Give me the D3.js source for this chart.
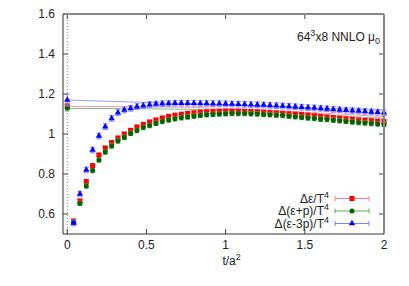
<!DOCTYPE html>
<html>
<head>
<meta charset="utf-8">
<script src="https://cdn.jsdelivr.net/npm/d3@7"></script>
<style>
body { margin: 0; background: #fff; }
text { font-family: "Liberation Sans", Arial, sans-serif; }
</style>
</head>
<body>
<div class="chart"></div>
<script>
// flow time values
var tValues = [0.04,0.08,0.12,0.16,0.20,0.24,0.28,0.32,0.36,0.40,0.44,0.48,0.52,0.56,0.60,0.64,0.68,0.72,0.76,0.80,
	0.84,0.88,0.92,0.96,1.00,1.04,1.08,1.12,1.16,1.20,1.24,1.28,1.32,1.36,1.40,1.44,1.48,1.52,1.56,1.60,
	1.64,1.68,1.72,1.76,1.80,1.84,1.88,1.92,1.96,2.00];
var deltaEps = [0.565,0.665,0.762,0.842,0.895,0.930,0.957,0.980,1.000,1.018,1.035,1.048,1.060,1.070,1.080,1.088,1.094,1.099,1.103,1.106,
	1.109,1.111,1.112,1.113,1.114,1.114,1.114,1.113,1.112,1.111,1.109,1.107,1.105,1.103,1.101,1.099,1.097,1.094,1.091,1.088,
	1.085,1.082,1.079,1.076,1.073,1.070,1.068,1.066,1.064,1.062];
var deltaEpsP = [0.558,0.653,0.740,0.817,0.870,0.910,0.940,0.965,0.983,1.003,1.017,1.032,1.042,1.053,1.062,1.070,1.076,1.081,1.085,1.089,
	1.093,1.096,1.098,1.100,1.101,1.102,1.102,1.102,1.101,1.100,1.098,1.096,1.094,1.092,1.089,1.086,1.083,1.080,1.077,1.074,
	1.072,1.069,1.066,1.063,1.060,1.057,1.055,1.052,1.050,1.048];
var deltaEps3P = [0.555,0.700,0.820,0.920,0.990,1.037,1.078,1.107,1.120,1.128,1.137,1.142,1.147,1.150,1.152,1.153,1.154,1.154,1.154,1.154,
	1.153,1.153,1.152,1.152,1.151,1.150,1.149,1.148,1.147,1.146,1.145,1.143,1.142,1.140,1.138,1.136,1.134,1.132,1.130,1.128,
	1.126,1.123,1.121,1.119,1.117,1.115,1.113,1.111,1.109,1.107];
var seriesErrors = [0.008, 0.011, 0.014];
// extrapolated t->0 values
var zeroValues = [1.14, 1.13, 1.17];
var zeroErrors = [0.015, 0.015, 0.03];
// thin lines
var lineT = [0, 0.4, 0.8, 1.2, 1.6, 2];
var lineEps = [1.138, 1.137, 1.133, 1.122, 1.105, 1.087];
var lineEpsP = [1.128, 1.127, 1.123, 1.112, 1.096, 1.078];
var lineEps3P = [1.170, 1.160, 1.152, 1.142, 1.130, 1.118];
var xTicks = [0, 0.5, 1, 1.5, 2];
var yTicks = [0.6, 0.8, 1, 1.2, 1.4, 1.6];
var legendLabels = ['Δε/T', 'Δ(ε+p)/T', 'Δ(ε-3p)/T'];

var width = 409, height = 286;
var plotL = 63, plotR = 384, plotT = 14, plotB = 234;
var colors = ['#ff0000', '#006400', '#0000ff'];
var errColors = ['#ff8080', '#66a866', '#8080ff'];
var shapes = [d3.symbolSquare, d3.symbolCircle, d3.symbolTriangle];
var sizes = [26, 20, 18];

var svg = d3.select('.chart').append('svg')
	.attr('width', width).attr('height', height);

var x = d3.scaleLinear().domain([-0.027, 2]).range([plotL, plotR]);
var y = d3.scaleLinear().domain([0.5, 1.6]).range([plotB, plotT]);

// dotted line at t = 0
svg.append('line')
	.attr('x1', x(0)).attr('x2', x(0)).attr('y1', plotT).attr('y2', plotB)
	.attr('stroke', '#888').attr('stroke-width', 1).attr('stroke-dasharray', '1,2');

// ticks (inward, mirrored)
yTicks.forEach(function(v){
	svg.append('line').attr('x1', plotL).attr('x2', plotL+5).attr('y1', y(v)).attr('y2', y(v)).attr('stroke', '#444');
	svg.append('line').attr('x1', plotR-5).attr('x2', plotR).attr('y1', y(v)).attr('y2', y(v)).attr('stroke', '#444');
	svg.append('text').attr('x', plotL-8).attr('y', y(v)+4).attr('text-anchor', 'end')
		.attr('font-size', 12).attr('fill', '#222').text(v);
});
xTicks.forEach(function(v){
	svg.append('line').attr('x1', x(v)).attr('x2', x(v)).attr('y1', plotB).attr('y2', plotB-5).attr('stroke', '#444');
	svg.append('line').attr('x1', x(v)).attr('x2', x(v)).attr('y1', plotT).attr('y2', plotT+5).attr('stroke', '#444');
	svg.append('text').attr('x', x(v)).attr('y', plotB+15).attr('text-anchor', 'middle')
		.attr('font-size', 12).attr('fill', '#222').text(v);
});

var series = [deltaEps, deltaEpsP, deltaEps3P];
var lines = [lineEps, lineEpsP, lineEps3P];

// thin lines
var lineGen = d3.line().x(function(d){ return x(d[0]); }).y(function(d){ return y(d[1]); });
for(var s = 0; s < 3; s++){
	svg.append('path')
		.datum(lineT.map(function(t, i){ return [t, lines[s][i]]; }))
		.attr('d', lineGen)
		.attr('fill', 'none')
		.attr('stroke', errColors[s])
		.attr('stroke-opacity', 0.8)
		.attr('stroke-width', 1);
}

function errorBar(g, cx, v, err, col){
	var cap = 2.5;
	g.append('line').attr('x1', cx).attr('x2', cx).attr('y1', y(v-err)).attr('y2', y(v+err))
		.attr('stroke', col).attr('stroke-width', 1);
	g.append('line').attr('x1', cx-cap).attr('x2', cx+cap).attr('y1', y(v-err)).attr('y2', y(v-err))
		.attr('stroke', col).attr('stroke-width', 1);
	g.append('line').attr('x1', cx-cap).attr('x2', cx+cap).attr('y1', y(v+err)).attr('y2', y(v+err))
		.attr('stroke', col).attr('stroke-width', 1);
}

for(s = 0; s < 3; s++){
	var g = svg.append('g');
	tValues.forEach(function(t, i){
		errorBar(g, x(t), series[s][i], seriesErrors[s], errColors[s]);
	});
	errorBar(g, x(0), zeroValues[s], zeroErrors[s], errColors[s]);
	g.selectAll('path.pt')
		.data(tValues.map(function(t, i){ return [t, series[s][i]]; }).concat([[0, zeroValues[s]]]))
		.enter().append('path')
		.attr('class', 'pt')
		.attr('transform', function(d){ return 'translate(' + x(d[0]) + ',' + y(d[1]) + ')'; })
		.attr('d', d3.symbol().type(shapes[s]).size(sizes[s]))
		.attr('fill', colors[s]);
}

// frame
svg.append('line').attr('x1', plotL).attr('x2', plotR).attr('y1', plotT).attr('y2', plotT).attr('stroke', '#888').attr('stroke-width', 2);
svg.append('line').attr('x1', plotR).attr('x2', plotR).attr('y1', plotT).attr('y2', plotB).attr('stroke', '#888').attr('stroke-width', 2);
svg.append('line').attr('x1', plotL).attr('x2', plotL).attr('y1', plotT).attr('y2', plotB).attr('stroke', '#333').attr('stroke-width', 1);
svg.append('line').attr('x1', plotL).attr('x2', plotR).attr('y1', plotB).attr('y2', plotB).attr('stroke', '#333').attr('stroke-width', 1);

// legend
var legY = [198.5, 211, 223.5];
for(s = 0; s < 3; s++){
	var lt = svg.append('text').attr('x', 329).attr('y', legY[s]+4).attr('text-anchor', 'end')
		.attr('font-size', 12).attr('fill', '#222');
	lt.append('tspan').text(legendLabels[s]);
	lt.append('tspan').attr('font-size', 9).attr('dy', -5).text('4');
	svg.append('line').attr('x1', 335).attr('x2', 369).attr('y1', legY[s]).attr('y2', legY[s])
		.attr('stroke', errColors[s]);
	svg.append('line').attr('x1', 335).attr('x2', 335).attr('y1', legY[s]-2.5).attr('y2', legY[s]+2.5).attr('stroke', errColors[s]);
	svg.append('line').attr('x1', 369).attr('x2', 369).attr('y1', legY[s]-2.5).attr('y2', legY[s]+2.5).attr('stroke', errColors[s]);
	svg.append('path').attr('transform', 'translate(352,' + legY[s] + ')')
		.attr('d', d3.symbol().type(shapes[s]).size(sizes[s])).attr('fill', colors[s]);
}

// title
var title = svg.append('text').attr('x', 380).attr('y', 41).attr('text-anchor', 'end')
	.attr('font-size', 12).attr('fill', '#222');
title.append('tspan').text('64');
title.append('tspan').attr('font-size', 9).attr('dy', -5).text('3');
title.append('tspan').attr('dy', 5).text('x8 NNLO μ');
title.append('tspan').attr('font-size', 9).attr('dy', 3).text('0');

// x label
var xl = svg.append('text').attr('x', x(1)+6).attr('y', 265).attr('text-anchor', 'middle')
	.attr('font-size', 12).attr('fill', '#222');
xl.append('tspan').text('t/a');
xl.append('tspan').attr('font-size', 9).attr('dy', -5).text('2');
</script>
</body>
</html>
